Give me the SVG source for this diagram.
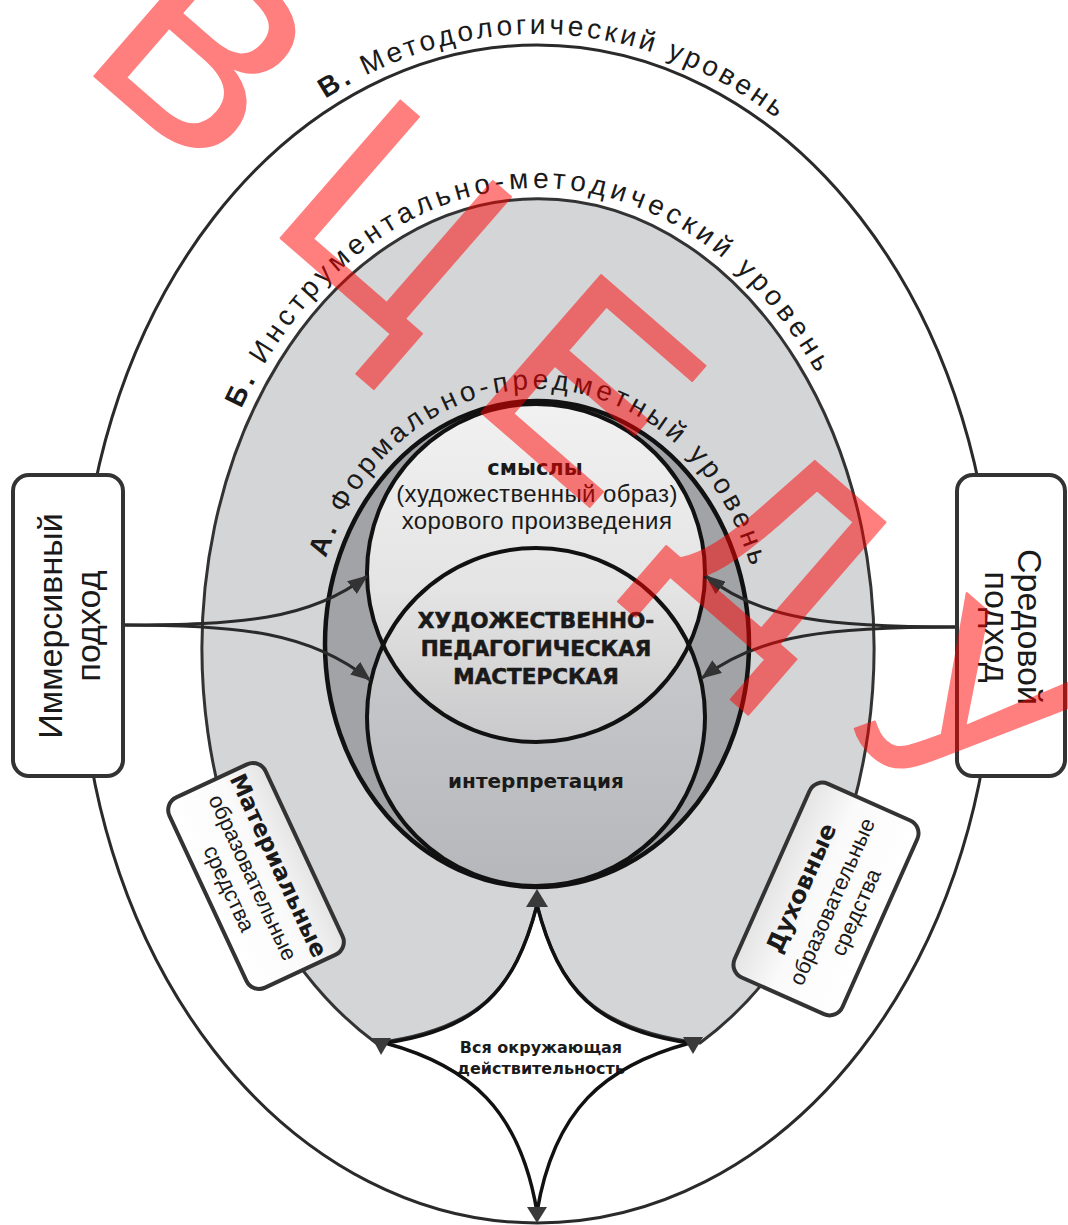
<svg xmlns="http://www.w3.org/2000/svg" width="1068" height="1225" viewBox="0 0 1068 1225">
<defs>
<style>
.arc{font-family:"Liberation Sans",Arial,sans-serif;font-size:28px;fill:#1a1a1a;}
.hv{font-family:"DejaVu Sans",sans-serif;font-weight:bold;fill:#1a1a1a;text-anchor:middle;}
.hx{stroke:#1a1a1a;stroke-width:0.6;}
.rg{font-family:"Liberation Sans",Arial,sans-serif;fill:#1a1a1a;text-anchor:middle;}
.box{stroke:#333;stroke-width:4;}
.con{fill:none;stroke:#2a2a2a;stroke-width:3;}
.star{fill:none;stroke:#111;stroke-width:3.5;}
.tri{fill:#3a3a3a;}
.wm{font-family:"Liberation Sans",Arial,sans-serif;font-size:265px;fill:#ff0000;stroke:#ff0000;stroke-width:2;stroke-linejoin:round;}
</style>
<linearGradient id="gUp" x1="0" y1="0" x2="0" y2="1">
<stop offset="0" stop-color="#f1f1f1"/><stop offset="0.55" stop-color="#e4e4e4"/><stop offset="1" stop-color="#c9c9cb"/>
</linearGradient>
<linearGradient id="gLo" x1="0" y1="0" x2="0" y2="1">
<stop offset="0" stop-color="#cfd0d2"/><stop offset="1" stop-color="#b6b7ba"/>
</linearGradient>
<linearGradient id="gBox" x1="0" y1="1" x2="0" y2="0">
<stop offset="0" stop-color="#ffffff"/><stop offset="0.6" stop-color="#fafafa"/><stop offset="1" stop-color="#e4e4e4"/>
</linearGradient>
<marker id="ah" viewBox="0 0 20 16" refX="19" refY="8" markerWidth="20" markerHeight="16" markerUnits="userSpaceOnUse" orient="auto">
<path d="M0,0 L20,8 L0,16 Z" fill="#333"/>
</marker>
<path id="pV" d="M69,634 A468,600 0 0 1 1005,634"/>
<path id="pB" d="M190,650 A348,462 0 0 1 886,650"/>
<path id="pA" d="M313,644 A224,255 0 0 1 761,644"/>
</defs>

<g id="level-v">
<ellipse cx="537" cy="634" rx="457" ry="589" fill="#fff" stroke="#2a2a2a" stroke-width="3"/>
</g>
<g id="level-b">
<path d="M376,1043 A336,450 0 1 1 700,1043 C596,1030 559,990 537,905 C515,990 478,1030 376,1043 Z" fill="#d4d5d7" stroke="#333" stroke-width="3"/>
</g>
<g id="level-a">
<ellipse cx="537" cy="644" rx="212" ry="243" fill="#a2a3a6" stroke="#111" stroke-width="4.5"/>
</g>
<g id="interpretation">
<circle cx="536" cy="717" r="169" fill="url(#gLo)"/>
</g>
<g id="meanings">
<circle cx="536" cy="573" r="169" fill="url(#gUp)"/>
</g>
<g id="circle-outlines">
<circle cx="536" cy="717" r="169" fill="none" stroke="#111" stroke-width="4"/>
<circle cx="536" cy="573" r="169" fill="none" stroke="#111" stroke-width="4"/>
</g>

<g id="arc-labels">
<text class="arc" letter-spacing="3.5"><textPath href="#pV" startOffset="51.1%" text-anchor="middle"><tspan font-weight="bold">В.</tspan> Методологический уровень</textPath></text>
<text class="arc" letter-spacing="4.5"><textPath href="#pB" startOffset="48.6%" text-anchor="middle"><tspan font-weight="bold">Б.</tspan> Инструментально-методический уровень</textPath></text>
<text class="arc" letter-spacing="4"><textPath href="#pA" startOffset="50.8%" text-anchor="middle"><tspan font-weight="bold">А.</tspan> Формально-предметный уровень</textPath></text>
</g>

<g id="center-labels">
<text class="hv" x="535" y="475" font-size="21">смыслы</text>
<text class="rg" x="537" y="502" font-size="24" letter-spacing="0.4">(художественный образ)</text>
<text class="rg" x="537" y="529" font-size="24" letter-spacing="0.4">хорового произведения</text>
<text class="hv hx" x="536" y="628" font-size="21.5">ХУДОЖЕСТВЕННО-</text>
<text class="hv hx" x="536" y="656" font-size="21.5">ПЕДАГОГИЧЕСКАЯ</text>
<text class="hv hx" x="536" y="684" font-size="21.5">МАСТЕРСКАЯ</text>
<text class="hv" x="536" y="788" font-size="20">интерпретация</text>
<text class="hv" x="541" y="1053" font-size="16">Вся окружающая</text>
<text class="hv" x="541" y="1074" font-size="16">действительность</text>
</g>

<g id="connectors">
<path class="con" d="M123,625 C240,625 310,620 367,576" marker-end="url(#ah)"/>
<path class="con" d="M123,625 C240,625 310,632 370,680" marker-end="url(#ah)"/>
<path class="con" d="M957,627 C830,627 760,620 706,576" marker-end="url(#ah)"/>
<path class="con" d="M957,627 C830,627 760,634 702,678" marker-end="url(#ah)"/>
<path class="star" d="M537,905 C515,990 478,1030 385,1043"/>
<path class="star" d="M537,905 C559,990 596,1030 690,1043"/>
<path class="star" d="M385,1043 C470,1066 520,1110 537,1212"/>
<path class="star" d="M690,1043 C604,1066 554,1110 537,1212"/>
<polygon class="tri" points="537,889 526,907 548,907"/>
<polygon class="tri" points="537,1223 527,1207 547,1207"/>
<polygon class="tri" points="372,1038 391,1038 381,1055"/>
<polygon class="tri" points="683,1037 703,1037 693,1054"/>
</g>

<g id="immersive">
<rect class="box" x="13" y="475" width="110" height="301" rx="16" fill="#fff"/>
<text class="rg" font-size="34" transform="translate(62,626) rotate(-90)">Иммерсивный</text>
<text class="rg" font-size="34" transform="translate(100,626) rotate(-90)">подход</text>
</g>
<g id="environment">
<rect class="box" x="957" y="475" width="108" height="301" rx="16" fill="#fff"/>
<text class="rg" font-size="34" transform="translate(1018,627) rotate(90)">Средовой</text>
<text class="rg" font-size="34" transform="translate(985,627) rotate(90)">подход</text>
</g>
<g id="material" transform="translate(256,876) rotate(65)">
<rect class="box" x="-105" y="-53" width="210" height="106" rx="14" fill="url(#gBox)"/>
<text class="hv" y="-17" font-size="23">Материальные</text>
<text class="rg" y="11" font-size="22">образовательные</text>
<text class="rg" y="37" font-size="22">средства</text>
</g>
<g id="spiritual" transform="translate(826,899) rotate(-66)">
<rect class="box" x="-106" y="-59" width="212" height="118" rx="14" fill="url(#gBox)"/>
<text class="hv" y="-19" font-size="24">Духовные</text>
<text class="rg" y="14" font-size="22">образовательные</text>
<text class="rg" y="40" font-size="22">средства</text>
</g>

<g id="watermark" opacity="0.5">
<text class="wm" letter-spacing="70" transform="translate(78,62) rotate(41)">ВЦЕДУ</text>
</g>
</svg>
